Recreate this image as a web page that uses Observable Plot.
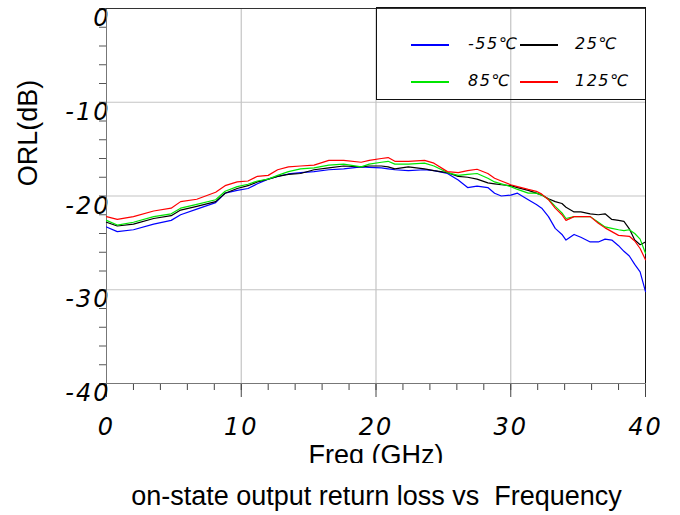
<!DOCTYPE html>
<html>
<head>
<meta charset="utf-8">
<script src="https://cdn.jsdelivr.net/npm/d3@7"></script>
<script src="https://cdn.jsdelivr.net/npm/@observablehq/plot@0.6"></script>
<style>
  html, body { margin: 0; padding: 0; background: #fff; }
  #wrap { position: relative; width: 680px; height: 515px; }
  #chart svg { overflow: hidden; display: block; }
  #legend { position: absolute; left: 376px; top: 7px; width: 270px; height: 93px;
            box-sizing: border-box; border: 1px solid #111; pointer-events: none; }
  .sw { position: absolute; width: 38px; height: 2px; }
  .lt { position: absolute; font-family: "DejaVu Sans"; font-style: italic; font-size: 16px;
        letter-spacing: 1.5px; line-height: 20px; color: #000; }
  #caption { position: absolute; left: 0; top: 481px; width: 753px; text-align: center;
             font-family: "Liberation Sans", Arial, sans-serif; font-size: 27px; white-space: pre;
             line-height: 31px; color: #000; }
</style>
</head>
<body>
<div id="wrap">
  <div id="chart"></div>
  <div id="legend"></div>
  <div id="caption">on-state output return loss vs  Frequency</div>
</div>
<script>
// ---- data ----
const freq = [0,0.8,2,3.5,4.8,5.5,6.7,8.1,8.8,9.7,10.5,11.2,12,12.7,13.5,14.4,15.4,16.5,17.6,18.9,19.5,20.4,20.9,21.4,22.4,23.6,24.3,25.3,26.1,26.8,27.5,28.3,28.8,29.3,30.0,30.5,31.3,31.9,32.3,32.8,33.3,33.8,34.1,34.7,35.2,35.9,36.5,37.0,37.5,38.0,38.4,38.8,39.2,39.6,40.0];
const orlM55 = [-23.3,-23.8,-23.6,-23.0,-22.6,-22.0,-21.4,-20.7,-19.7,-19.4,-19.2,-18.7,-18.2,-17.9,-17.65,-17.5,-17.4,-17.2,-17.1,-16.9,-16.95,-17.0,-17.1,-17.2,-17.3,-17.2,-17.3,-17.6,-18.3,-19.1,-18.95,-19.1,-19.7,-20.0,-19.9,-19.7,-20.4,-20.9,-21.3,-22.2,-23.45,-24.1,-24.7,-24.1,-24.4,-24.9,-24.9,-24.6,-24.7,-25.3,-25.9,-26.4,-27.3,-28.1,-30.2];
const orlP25 = [-22.8,-23.2,-23.0,-22.4,-22.1,-21.5,-21.1,-20.6,-19.7,-19.2,-18.9,-18.5,-18.2,-17.9,-17.7,-17.6,-17.2,-17.0,-16.8,-16.9,-16.8,-16.8,-16.9,-17.1,-16.9,-17.1,-17.3,-17.5,-17.9,-18.0,-18.2,-18.6,-18.7,-18.8,-18.9,-19.1,-19.4,-19.7,-19.9,-20.3,-20.6,-20.8,-21.2,-21.7,-21.7,-21.9,-22.0,-21.9,-22.5,-22.6,-22.7,-23.5,-24.7,-25.2,-24.9];
const orlP85 = [-22.6,-23.1,-22.8,-22.2,-21.9,-21.3,-20.9,-20.4,-19.5,-19.0,-18.75,-18.4,-18.2,-17.8,-17.4,-17.1,-17.0,-16.7,-16.6,-16.9,-16.6,-16.4,-16.3,-16.6,-16.6,-16.5,-16.8,-17.5,-17.8,-17.7,-17.6,-18.1,-18.5,-18.7,-19.0,-19.3,-19.7,-19.7,-19.9,-20.35,-21.1,-21.8,-22.4,-22.2,-22.2,-22.2,-22.8,-23.3,-23.45,-23.6,-23.7,-23.6,-24.0,-24.6,-26.1];
const orlP125 = [-22.2,-22.5,-22.2,-21.6,-21.3,-20.6,-20.35,-19.6,-18.9,-18.5,-18.4,-17.9,-17.8,-17.2,-16.9,-16.8,-16.7,-16.2,-16.2,-16.4,-16.2,-16.0,-15.9,-16.3,-16.3,-16.2,-16.5,-17.4,-17.5,-17.3,-17.15,-17.6,-18.1,-18.4,-18.8,-19.0,-19.3,-19.5,-19.8,-20.4,-21.3,-22.0,-22.6,-22.2,-22.2,-22.2,-22.9,-23.4,-23.8,-24.2,-24.25,-24.3,-24.8,-25.6,-26.8];
const seriesNames = ["-55℃", "25℃", "85℃", "125℃"];
const seriesColors = ["#0000ff", "#000000", "#00e600", "#ff0000"];
const xMajorTicks = [0, 10, 20, 30, 40];
const xMinorTicks = [0,2,4,6,8,10,12,14,16,18,20,22,24,26,28,30,32,34,36,38,40];
const yMajorTicks = [0, -10, -20, -30, -40];
const yMinorTicks = [0,-2,-4,-6,-8,-10,-12,-14,-16,-18,-20,-22,-24,-26,-28,-30,-32,-34,-36,-38,-40];
const xGrid = [10, 20, 30];
const yGrid = [-10, -20, -30];

// build table
const allSeries = [orlM55, orlP25, orlP85, orlP125];
const rows = [];
allSeries.forEach((vals, i) => vals.forEach((v, j) => rows.push({f: freq[j], v, s: seriesNames[i]})));

const tickFont = {fontFamily: "DejaVu Sans", fontStyle: "italic", fontSize: 24, tickFormat: d => String(d)};

const svg = Plot.plot({
  width: 660, height: 463,
  marginTop: 8, marginBottom: 80, marginLeft: 106, marginRight: 15,
  x: {domain: [0, 40], label: null},
  y: {domain: [-40, 0], label: null},
  color: {domain: seriesNames, range: seriesColors},
  style: {background: "transparent", color: "#000"},
  marks: [
    Plot.gridX(xGrid, {stroke: "#c4c4c4", strokeOpacity: 1, strokeWidth: 1.2}),
    Plot.gridY(yGrid, {stroke: "#c4c4c4", strokeOpacity: 1, strokeWidth: 1.2}),
    Plot.axisX(xMinorTicks, {tickSize: 7, tickFormat: () => "", stroke: "#444", label: null}),
    Plot.axisX(xMajorTicks, {tickSize: 14, tickFormat: () => "", stroke: "#444", label: null}),
    Plot.axisX(xMajorTicks, {tickSize: 0, tickPadding: 34, ...tickFont, label: null}),
    Plot.axisY(yMinorTicks, {tickSize: 7, tickFormat: () => "", stroke: "#555", label: null}),
    Plot.axisY(yMajorTicks, {tickSize: 0, tickPadding: -4, dy: 10, ...tickFont, label: null}),
    Plot.frame({stroke: "#777"}),
    Plot.ruleX([40], {stroke: "#111"}),
    Plot.ruleY([0], {stroke: "#333"}),
    Plot.line(rows, {x: "f", y: "v", z: "s", stroke: "s", strokeWidth: 1.2})
  ]
});

// letter spacing for the hand-style tick labels
svg.querySelectorAll('g[aria-label="x-axis tick label"], g[aria-label="y-axis tick label"]').forEach(g => {
  g.style.letterSpacing = "2px";
});

// axis titles
const sel = d3.select(svg);
sel.append("text")
  .attr("x", 376).attr("y", 464)
  .attr("text-anchor", "middle")
  .attr("font-family", "Liberation Sans, Arial, sans-serif")
  .attr("font-size", 27)
  .attr("fill", "#000")
  .text("Freq (GHz)");
sel.append("text")
  .attr("transform", "translate(28,133) rotate(-90)")
  .attr("text-anchor", "middle")
  .attr("dominant-baseline", "central")
  .attr("font-family", "Liberation Sans, Arial, sans-serif")
  .attr("font-size", 27)
  .attr("fill", "#000")
  .text("ORL(dB)");

document.getElementById("chart").appendChild(svg);

// legend (2 x 2)
const legend = document.getElementById("legend");
seriesNames.forEach((name, i) => {
  const col = i % 2, row = Math.floor(i / 2);
  const sw = document.createElement("div");
  sw.className = "sw";
  sw.style.left = (34 + col * 109) + "px";
  sw.style.top = (36 + row * 37) + "px";
  sw.style.background = seriesColors[i];
  legend.appendChild(sw);
  const t = document.createElement("div");
  t.className = "lt";
  t.style.left = (91 + col * 107) + "px";
  t.style.top = (26 + row * 37) + "px";
  t.textContent = name;
  legend.appendChild(t);
});
</script>
</body>
</html>
